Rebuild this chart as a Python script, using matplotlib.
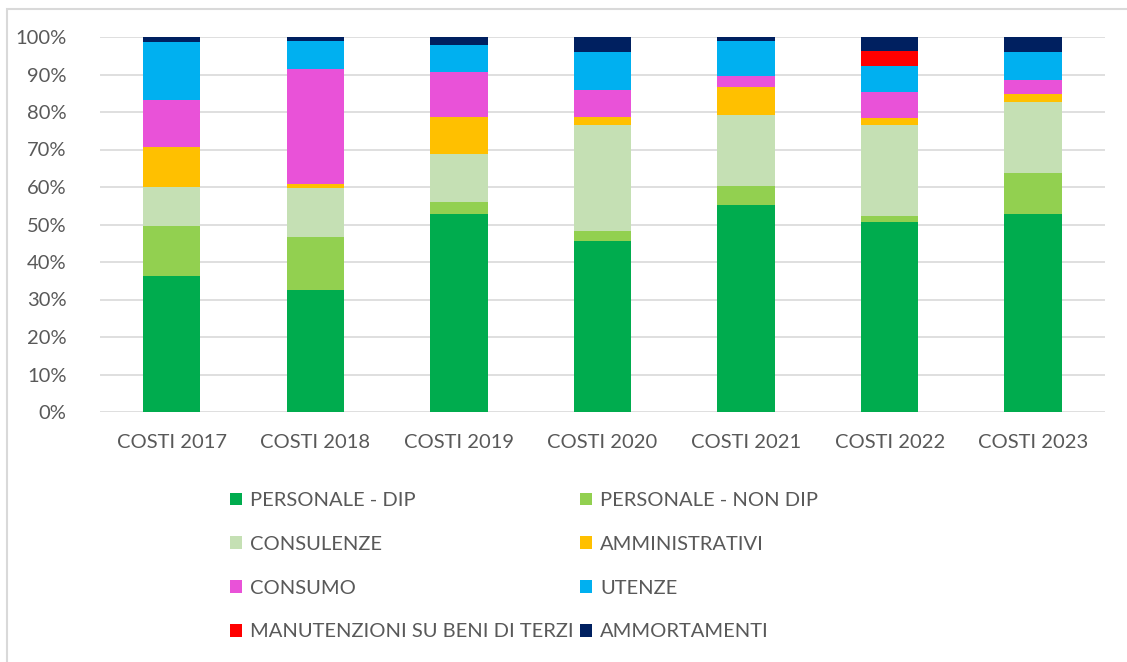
import numpy as np
import matplotlib.pyplot as plt
from matplotlib.patches import Rectangle
from matplotlib.ticker import PercentFormatter

# Quote dei costi per anno (valori in %)
anni = ["COSTI 2017", "COSTI 2018", "COSTI 2019", "COSTI 2020", "COSTI 2021", "COSTI 2022", "COSTI 2023"]

personale_dip = [36.3, 32.6, 52.8, 45.6, 55.1, 50.7, 52.7]
personale_non_dip = [13.2, 14.0, 3.1, 2.8, 5.3, 1.6, 11.0]
consulenze = [10.4, 13.1, 12.8, 28.2, 18.9, 24.2, 19.1]
amministrativi = [10.7, 1.0, 10.1, 2.2, 7.4, 1.9, 2.1]
consumo = [12.7, 30.9, 11.9, 7.1, 3.0, 6.9, 3.7]
utenze = [15.3, 7.4, 7.2, 10.0, 9.3, 6.9, 7.3]
manutenzioni = [0.0, 0.0, 0.0, 0.0, 0.0, 4.0, 0.0]
ammortamenti = [1.4, 1.0, 2.1, 4.1, 1.0, 3.8, 4.1]

serie = [
    ("PERSONALE - DIP", personale_dip, "#00ac4e"),
    ("PERSONALE - NON DIP", personale_non_dip, "#92d050"),
    ("CONSULENZE", consulenze, "#c5e0b4"),
    ("AMMINISTRATIVI", amministrativi, "#ffc000"),
    ("CONSUMO", consumo, "#e952d8"),
    ("UTENZE", utenze, "#00b0f0"),
    ("MANUTENZIONI SU BENI DI TERZI", manutenzioni, "#ff0000"),
    ("AMMORTAMENTI", ammortamenti, "#002060"),
]

plt.rcParams["font.family"] = ["Lato", "DejaVu Sans"]

fig = plt.figure(figsize=(11.27, 6.62), dpi=100)
ax = fig.add_axes([100 / 1127, 1 - 412 / 662, 1005 / 1127, 375 / 662])

x = np.arange(len(anni))
bottom = np.zeros(len(anni))
handles = []
for nome, valori, colore in serie:
    v = np.array(valori)
    b = ax.bar(x, v, 0.4, bottom=bottom, color=colore, label=nome, zorder=3)
    handles.append(b)
    bottom += v

ax.set_xlim(-0.5, len(anni) - 0.5)
ax.set_ylim(0, 100)
ax.set_yticks(np.arange(0, 101, 10))
ax.yaxis.set_major_formatter(PercentFormatter(decimals=0))
ax.set_xticks(x)
ax.set_xticklabels(anni)
ax.grid(axis="y", color="#d9d9d9", linewidth=1.2, zorder=0)
for s in ax.spines.values():
    s.set_visible(False)
ax.tick_params(length=0, labelsize=14.5, colors="#595959")
ax.tick_params(axis="x", pad=16)
ax.tick_params(axis="y", pad=24)

# legenda a due colonne, ordine per righe
ordine = [0, 2, 4, 6, 1, 3, 5, 7]
leg = fig.legend(handles=[handles[i] for i in ordine], labels=[serie[i][0] for i in ordine],
                 loc="upper left", bbox_to_anchor=(212 / 1127, 1 - 474 / 662),
                 ncol=2, frameon=False, fontsize=14.5, handlelength=0.6, handleheight=0.6,
                 handletextpad=0.4, columnspacing=0.3, labelspacing=1.33, labelcolor="#595959")

# cornice
fig.patches.append(Rectangle((7 / 1127, -0.1), 1.2, 1 - 9 / 662 + 0.1, transform=fig.transFigure,
                             fill=False, edgecolor="#d9d9d9", linewidth=1.5))

fig.savefig("out.png", dpi=100)
